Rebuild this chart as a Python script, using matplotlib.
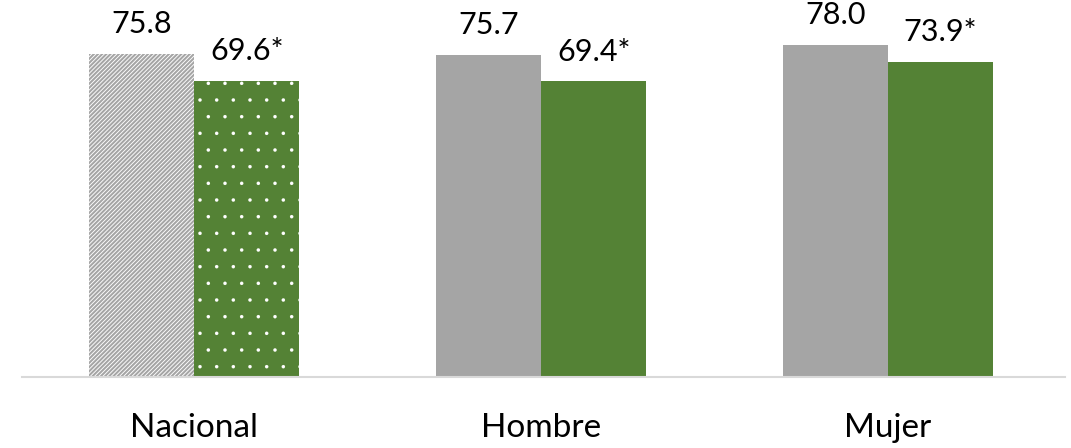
import matplotlib
matplotlib.use("Agg")
import matplotlib.pyplot as plt
import numpy as np

# datos
categorias = ['Nacional', 'Hombre', 'Mujer']
serie_a = [75.8, 75.7, 78.0]
serie_b = [69.6, 69.4, 73.9]
etiquetas_a = ['75.8', '75.7', '78.0']
etiquetas_b = ['69.6*', '69.4*', '73.9*']

gris = '#A5A5A5'
verde = '#548235'

plt.rcParams['font.family'] = ['Lato', 'DejaVu Sans']

fig = plt.figure(figsize=(10.71, 4.48), dpi=100)
ax = fig.add_axes([22 / 1071, 71 / 448, 1043 / 1071, 377 / 448])

x = np.arange(len(categorias))
w = 0.303

# grosor de trama distinto para rayas y puntos
with plt.rc_context({'hatch.linewidth': 0.65}):
    barras_a = ax.bar(x - w / 2, serie_a, w, color=gris, linewidth=0)
with plt.rc_context({'hatch.linewidth': 0.1}):
    barras_b = ax.bar(x + w / 2, serie_b, w, color=verde, linewidth=0)

# Nacional con tramas
barras_a[0].set_hatch('////////')
barras_a[0].set_edgecolor('white')
barras_b[0].set_hatch('.')
barras_b[0].set_edgecolor('white')

for i in range(len(categorias)):
    ax.annotate(etiquetas_a[i], (x[i] - w / 2, serie_a[i]), xytext=(0, 15),
                textcoords='offset points', ha='center', va='baseline', fontsize=22)
    ax.annotate(etiquetas_b[i], (x[i] + w / 2, serie_b[i]), xytext=(0, 15),
                textcoords='offset points', ha='center', va='baseline', fontsize=22)

ax.set_xlim(-0.496, 2.51)
ax.set_ylim(0, 88.5)
ax.set_xticks(x)
ax.set_xticklabels(categorias, fontsize=24)
ax.tick_params(axis='x', length=0, pad=26)
ax.set_yticks([])
for s in ['top', 'right', 'left']:
    ax.spines[s].set_visible(False)
ax.spines['bottom'].set_color('#D9D9D9')
ax.spines['bottom'].set_linewidth(1.5)

fig.savefig('out.png', dpi=100)
